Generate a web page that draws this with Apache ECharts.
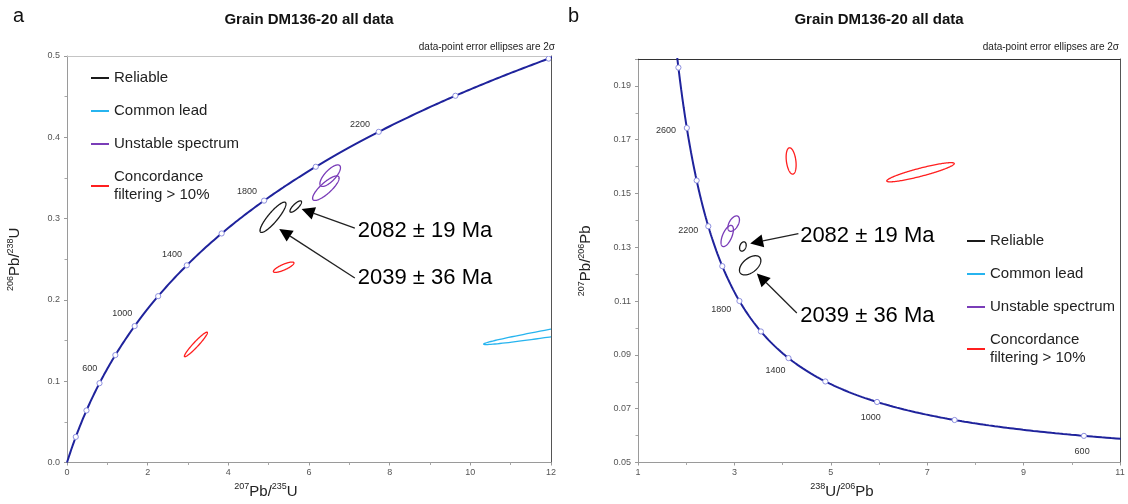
<!DOCTYPE html>
<html><head><meta charset="utf-8">
<script src="https://cdn.jsdelivr.net/npm/echarts@6/dist/echarts.min.js"></script>
<style>html,body{margin:0;padding:0;background:#fff}#c{width:1128px;height:504px}</style>
</head><body><div id="c"></div>
<script>
// ---------- constants of the concordia (decay constants, per Ma) ----------
const L238 = 1.55125e-4;
const L235 = 9.8485e-4;
const U85 = 137.88;

// ---------- legend / series names ----------
const seriesNames = ['Reliable', 'Common lead', 'Unstable spectrum', 'Concordance filtering > 10%'];

// ---------- panel a: Wetherill ellipses [x, y, 2σx, 2σy, rho] ----------
const wReliable = [[5.107, 0.3016, 0.322, 0.01865, 0.88], [5.671, 0.3148, 0.1436, 0.0070, 0.80]];
const wCommon = [[14.0, 0.1757, 3.67, 0.0306, 0.983]];
const wUnstable = [[6.525, 0.3528, 0.255, 0.01325, 0.74], [6.418, 0.3374, 0.329, 0.0151, 0.82]];
const wFiltered = [[5.372, 0.2402, 0.255, 0.00638, 0.81], [3.196, 0.1452, 0.285, 0.0151, 0.956]];

// ---------- panel b: Tera-Wasserburg ellipses [x, y, 2σx, 2σy, rho] ----------
const twReliable = [[3.176, 0.1303, 0.0684, 0.00173, 0.3], [3.327, 0.1233, 0.2218, 0.00357, 0.5]];
const twCommon = [];
const twUnstable = [[2.985, 0.1388, 0.120, 0.00287, 0.5], [2.851, 0.1342, 0.1285, 0.00394, 0.6]];
const twFiltered = [[4.177, 0.1621, 0.1036, 0.0049, -0.3], [6.861, 0.1579, 0.7005, 0.00357, 0.9]];

// ---------- concordia age markers (Ma) ----------
const markerAgesW = [200, 400, 600, 800, 1000, 1200, 1400, 1600, 1800, 2000, 2200, 2400, 2600];
const labelAgesW = [600, 1000, 1400, 1800, 2200];
const markerAgesTW = [600, 800, 1000, 1200, 1400, 1600, 1800, 2000, 2200, 2400, 2600, 2800];
const labelAgesTW = [600, 1000, 1400, 1800, 2200, 2600];

// ---------- annotations: [tipX, tipY, tailX, tailY, textX, textY] in data units ----------
const annotW = [[5.817, 0.3117, 7.136, 0.2883, 7.21, 0.2850], [5.262, 0.2871, 7.136, 0.2270, 7.21, 0.2274]];
const annotTW = [[3.327, 0.1314, 4.328, 0.1351, 4.364, 0.1343], [3.466, 0.1203, 4.295, 0.1056, 4.364, 0.1045]];
const annotText = ['2082 ± 19 Ma', '2039 ± 36 Ma'];

// ---------- axes ----------
const axW = {xMin: 0, xMax: 12, xStep: 2, yMin: 0, yMax: 0.5, yStep: 0.1};
const axTW = {xMin: 1, xMax: 11, xStep: 2, yMin: 0.05, yMax: 0.2, yStep: 0.02};

const FONT = "'Liberation Sans', Arial, sans-serif";
const colors = ['#1a1a1a', '#27b4ef', '#7a3db8', '#ff1f1f'];
const curveColor = '#1f239c';

function concW(t) { return [Math.expm1(L235 * t), Math.expm1(L238 * t)]; }
function concTW(t) { const a = Math.expm1(L238 * t), b = Math.expm1(L235 * t); return [1 / a, b / a / U85]; }

function curveData(fn, t0, t1) {
  const out = [];
  for (let t = t0; t <= t1; t += 5) out.push(fn(t));
  return out;
}

function ellipseSeries(name, data, color, gi) {
  return {
    type: 'custom', name: name, xAxisIndex: gi, yAxisIndex: gi, clip: true, silent: true, z: 4,
    itemStyle: {color: color}, data: data,
    renderItem: function (params, api) {
      const cx = api.value(0), cy = api.value(1), sx = api.value(2), sy = api.value(3), r = api.value(4);
      const k = Math.sqrt(1 - r * r);
      const pts = [];
      for (let i = 0; i < 160; i++) {
        const th = i / 160 * 2 * Math.PI, c = Math.cos(th), s = Math.sin(th);
        pts.push(api.coord([cx + sx * c, cy + sy * (r * c + k * s)]));
      }
      return {type: 'polygon', shape: {points: pts}, style: {fill: 'none', stroke: color, lineWidth: 1.3}};
    }
  };
}

function markerSeries(fn, ages, labelAges, gi, mode) {
  return {
    type: 'custom', xAxisIndex: gi, yAxisIndex: gi, clip: true, silent: true, z: 5,
    data: ages.map(a => [a]),
    renderItem: function (params, api) {
      const t = api.value(0);
      const p = api.coord(fn(t)), q = api.coord(fn(t + 2));
      let dx = q[0] - p[0], dy = q[1] - p[1];
      const L = Math.hypot(dx, dy); dx /= L; dy /= L;
      const children = [{type: 'circle', shape: {cx: p[0], cy: p[1], r: 2.6},
        style: {fill: '#ffffff', stroke: '#8d8fdf', lineWidth: 1}}];
      if (labelAges.indexOf(t) >= 0) {
        const dir = mode === 'w' ? [-dx, dy] : [dy, -dx];
        const d = 11, w = 20, h = 10;
        children.push({type: 'text', style: {text: String(t), x: p[0] + dir[0] * (d + w / 2), y: p[1] + dir[1] * (d + h / 2),
          align: 'center', verticalAlign: 'middle', fontSize: 9, fontFamily: FONT, fill: '#333'}});
      }
      return {type: 'group', children: children};
    }
  };
}

function annotSeries(data, gi) {
  return {
    type: 'custom', xAxisIndex: gi, yAxisIndex: gi, silent: true, z: 6, data: data,
    renderItem: function (params, api) {
      const tip = api.coord([api.value(0), api.value(1)]);
      const tail = api.coord([api.value(2), api.value(3)]);
      const tp = api.coord([api.value(4), api.value(5)]);
      let dx = tip[0] - tail[0], dy = tip[1] - tail[1];
      const L = Math.hypot(dx, dy); dx /= L; dy /= L;
      const hl = 13, hw = 6.5;
      const bx = tip[0] - dx * hl, by = tip[1] - dy * hl;
      return {type: 'group', children: [
        {type: 'line', shape: {x1: tail[0], y1: tail[1], x2: bx, y2: by}, style: {stroke: '#222', lineWidth: 1.3}},
        {type: 'polygon', shape: {points: [tip, [bx - dy * hw, by + dx * hw], [bx + dy * hw, by - dx * hw]]}, style: {fill: '#000'}},
        {type: 'text', style: {text: annotText[params.dataIndex], x: tp[0], y: tp[1], align: 'left', verticalAlign: 'middle',
          fontSize: 22, fontFamily: FONT, fill: '#000'}}
      ]};
    }
  };
}

const supRich = {
  sup: {fontSize: 9, lineHeight: 10, verticalAlign: 'top', fontFamily: FONT, color: '#222'},
  b: {fontSize: 15, lineHeight: 18, fontFamily: FONT, color: '#222'}
};

function valueAxis(gi, min, max, step, digits, name, nameGap, namePad, isY) {
  const o = {
    type: 'value', gridIndex: gi, min: min, max: max, interval: step,
    name: name, nameLocation: 'middle', nameGap: nameGap,
    nameTextStyle: {rich: supRich, padding: namePad},
    axisLine: {show: true, onZero: false, lineStyle: {color: '#9a9a9a', width: 1}},
    axisTick: {show: true, inside: false, length: 3, lineStyle: {color: '#9a9a9a'}},
    minorTick: {show: true, splitNumber: 2, length: 2.5, lineStyle: {color: '#a8a8a8'}},
    splitLine: {show: false},
    axisLabel: {fontSize: 9, fontFamily: FONT, color: '#555', margin: isY ? 7 : 6, showMaxLabel: true,
      formatter: function (v) { return digits > 0 ? v.toFixed(digits) : String(Math.round(v)); }}
  };
  return o;
}

function borderAxis(gi, min, max, pos, color) {
  return {type: 'value', gridIndex: gi, min: min, max: max, position: pos,
    axisLine: {show: true, onZero: false, lineStyle: {color: color, width: 1}},
    axisTick: {show: false}, axisLabel: {show: false}, splitLine: {show: false}};
}

const yTW = valueAxis(1, axTW.yMin, axTW.yMax, axTW.yStep, 2, '{sup|207}{b|Pb/}{sup|206}{b|Pb}', 43, [0, 0, 0, 0], true);
yTW.axisLabel.showMaxLabel = false;
yTW.axisLabel.formatter = function (v) { return Math.abs(v - 0.2) < 1e-9 ? '' : v.toFixed(2); };

const legendItems = seriesNames.map((n, i) => ({name: n, itemStyle: {color: colors[i]}}));
const legendCommon = {
  orient: 'vertical', icon: 'rect', itemWidth: 18, itemHeight: 2, itemGap: 15, selectedMode: false,
  textStyle: {fontSize: 15, lineHeight: 18, fontFamily: FONT, color: '#222'},
  formatter: function (n) { return n === 'Concordance filtering > 10%' ? 'Concordance\nfiltering > 10%' : n; },
  data: legendItems
};

const titleStyle = {fontSize: 15, fontWeight: 'bold', fontFamily: FONT, fill: '#111'};

const option = {
  animation: false,
  backgroundColor: '#fff',
  grid: [
    {left: 67, top: 56, width: 484, height: 407, containLabel: false},
    {left: 638, top: 59, width: 482, height: 407, containLabel: false}
  ],
  xAxis: [
    valueAxis(0, axW.xMin, axW.xMax, axW.xStep, 0, '{sup|207}{b|Pb/}{sup|235}{b|U}', 20, [0, 86, 0, 0], false),
    valueAxis(1, axTW.xMin, axTW.xMax, axTW.xStep, 0, '{sup|238}{b|U/}{sup|206}{b|Pb}', 20, [0, 74, 0, 0], false),
    borderAxis(0, axW.xMin, axW.xMax, 'top', '#c4c4c4'),
    borderAxis(1, axTW.xMin, axTW.xMax, 'top', '#333')
  ],
  yAxis: [
    valueAxis(0, axW.yMin, axW.yMax, axW.yStep, 1, '{sup|206}{b|Pb/}{sup|238}{b|U}', 43, [0, 0, 0, 0], true),
    yTW,
    borderAxis(0, axW.yMin, axW.yMax, 'right', '#555'),
    borderAxis(1, axTW.yMin, axTW.yMax, 'right', '#555')
  ],
  legend: [
    Object.assign({left: 86, top: 64}, legendCommon),
    Object.assign({left: 962, top: 227}, legendCommon)
  ],
  graphic: [
    {type: 'text', left: 13, top: 6, style: {text: 'a', fontSize: 20, fontFamily: FONT, fill: '#111'}},
    {type: 'text', left: 568, top: 6, style: {text: 'b', fontSize: 20, fontFamily: FONT, fill: '#111'}},
    {type: 'text', x: 309, y: 20, style: Object.assign({text: 'Grain DM136-20 all data', align: 'center', verticalAlign: 'middle'}, titleStyle)},
    {type: 'text', x: 879, y: 20, style: Object.assign({text: 'Grain DM136-20 all data', align: 'center', verticalAlign: 'middle'}, titleStyle)},
    {type: 'text', x: 555, y: 47, style: {text: 'data-point error ellipses are 2σ', align: 'right', verticalAlign: 'middle', fontSize: 10, fontFamily: FONT, fill: '#222'}},
    {type: 'text', x: 1119, y: 47, style: {text: 'data-point error ellipses are 2σ', align: 'right', verticalAlign: 'middle', fontSize: 10, fontFamily: FONT, fill: '#222'}}
  ],
  series: [
    {type: 'line', xAxisIndex: 0, yAxisIndex: 0, data: curveData(concW, 0, 2700), showSymbol: false, silent: true,
      lineStyle: {color: curveColor, width: 2}, z: 3, clip: true},
    markerSeries(concW, markerAgesW, labelAgesW, 0, 'w'),
    ellipseSeries(seriesNames[0], wReliable, colors[0], 0),
    ellipseSeries(seriesNames[1], wCommon, colors[1], 0),
    ellipseSeries(seriesNames[2], wUnstable, colors[2], 0),
    ellipseSeries(seriesNames[3], wFiltered, colors[3], 0),
    annotSeries(annotW, 0),

    {type: 'line', xAxisIndex: 1, yAxisIndex: 1, data: curveData(concTW, 500, 3000), showSymbol: false, silent: true,
      lineStyle: {color: curveColor, width: 2}, z: 3, clip: true},
    markerSeries(concTW, markerAgesTW, labelAgesTW, 1, 'tw'),
    ellipseSeries(seriesNames[0], twReliable, colors[0], 1),
    ellipseSeries(seriesNames[1], twCommon, colors[1], 1),
    ellipseSeries(seriesNames[2], twUnstable, colors[2], 1),
    ellipseSeries(seriesNames[3], twFiltered, colors[3], 1),
    annotSeries(annotTW, 1)
  ]
};

const chart = echarts.init(document.getElementById('c'));
chart.setOption(option);
</script>
</body></html>
